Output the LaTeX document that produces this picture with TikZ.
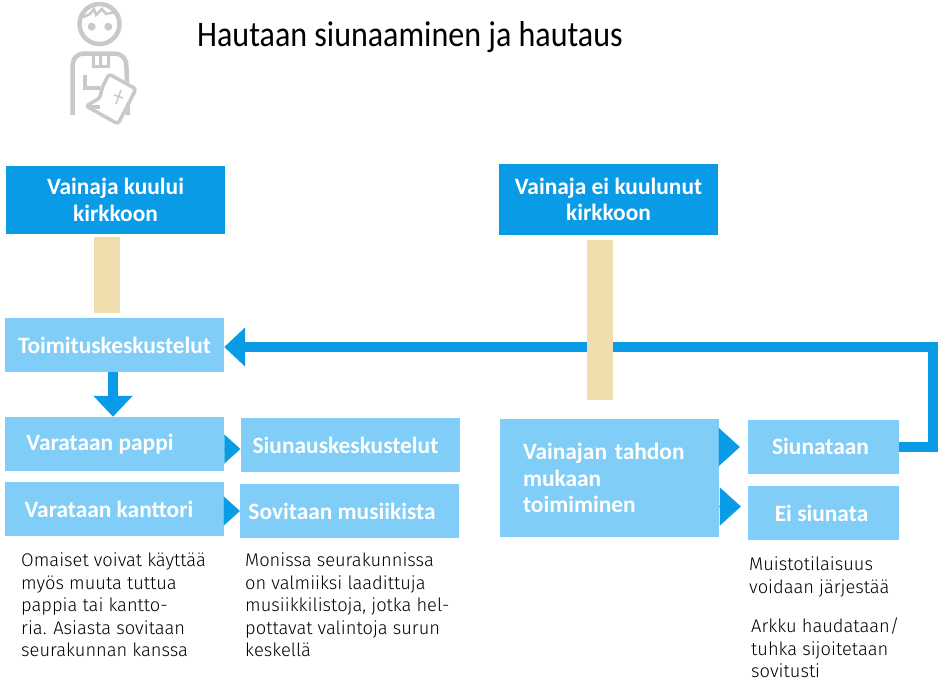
\documentclass[tikz,border=0pt]{standalone}
\usepackage{fontspec}
\setmainfont{Carlito}
\newfontfamily\titlefont[FakeStretch=0.89]{Carlito}
\newfontfamily\bodyfont[UprightFont=* Light]{Fira Sans}
\usetikzlibrary{arrows.meta}
\definecolor{darkblue}{HTML}{0A9BE6}
\definecolor{lightblue}{HTML}{80CDF8}
\definecolor{barcolor}{HTML}{EFDDAE}
\definecolor{icongray}{HTML}{C9C9C9}
\tikzset{
    bluebox/.style={fill=lightblue, text=white, inner sep=0pt, minimum width=219pt, minimum height=54pt, font=\bfseries\fontsize{23.4}{26.5}\selectfont},
    headbox/.style={bluebox, fill=darkblue, align=center},
    smallbox/.style={bluebox, minimum width=151pt},
    bar/.style={barcolor, line width=26pt},
    flow/.style={darkblue, line width=10pt, -{Triangle[length=21pt,width=38pt]}},
    tip/.style={darkblue, line width=0.1pt, -{Triangle[length=16pt,width=29pt]}},
    bigtip/.style={darkblue, line width=0.1pt, -{Triangle[length=21pt,width=38pt]}},
    note/.style={anchor=north west, align=left, inner sep=0pt, font=\bodyfont\fontsize{18.3}{22.5}\selectfont},
    icon/.style={icongray, line width=4.5pt}
}
\begin{document}
\begin{tikzpicture}[x=1pt, y=-1pt]
    \useasboundingbox (0,0) rectangle (947,686);

    \draw[icon] (99.5,24) circle (20);
    \fill[icongray] (91.7,26.7) circle (4) (108.3,26.7) circle (4);
    \draw[icon, line width=2.5pt] (83,17) -- (90,14) -- (94,9) -- (96,15) -- (102,9) -- (106,14) -- (115,12);
    \draw[icon, rounded corners=11pt] (72.7,115) -- (72.7,53.5) -- (126,53.5) -- (128,115);
    \draw[icon, line width=3pt] (93.5,53) -- (93.5,66) -- (108,66) -- (108,53) (100.5,53) -- (100.5,66);
    \fill[white, rounded corners=3pt] (108,72) -- (138,88) -- (119,126) -- (84,108) -- cycle;
    \draw[icon, line width=3.5pt, rounded corners=3pt] (109,74) -- (136,89) -- (118,124) -- (86,106) -- (100,98) -- (102,88) -- cycle;
    \draw[icon, line width=3.5pt] (85,75) -- (85,88) -- (100,88) (87,107) -- (100,107);
    \draw[icon, line width=1.5pt] (121,90) -- (116,104) (114,95) -- (123,98);

    \node[font=\titlefont\fontsize{36}{40}\selectfont] (title) at (410,37) {Hautaan siunaaminen ja hautaus};

    \node[headbox, minimum height=68pt] (kuului) at (115.5,200) {Vainaja kuului\\kirkkoon};
    \node[headbox, minimum height=71pt] (eikuulunut) at (608.5,199.5) {Vainaja ei kuulunut\\kirkkoon};
    \node[bluebox] (toimitus) at (114.5,345) {Toimituskeskustelut};
    \node[bluebox] (pappi) at (114.5,444) {\hspace*{-29pt}Varataan pappi};
    \node[bluebox] (kanttori) at (114.5,509) {\hspace*{-11pt}Varataan kanttori};
    \node[bluebox] (siunaus) at (350,445) {\hspace*{-9pt}Siunauskeskustelut};
    \node[bluebox] (musiikki) at (349.5,511) {\hspace*{-15pt}Sovitaan musiikista};
    \node[bluebox, minimum height=118pt, text width=173pt, align=left] (tahto) at (609.5,478) {Vainajan tahdon\\mukaan\\toimiminen\\[10pt]};
    \node[smallbox] (siunataan) at (823.5,447) {\hspace*{-6pt}\raisebox{2pt}{Siunataan}};
    \node[smallbox] (eisiunata) at (823.5,513) {\hspace*{-4pt}Ei siunata};

    \draw[flow] (siunataan.east) -| (933,347) -- (toimitus.east |- 933,347);
    \draw[bar, shorten <=3pt, shorten >=5pt] ([xshift=-8.5pt]kuului.south) -- ([xshift=-8.5pt]kuului.south |- toimitus.north);
    \draw[bar, shorten <=5pt, shorten >=19pt] ([xshift=-8.5pt]eikuulunut.south) -- ([xshift=-8.5pt]eikuulunut.south |- tahto.north);
    \draw[flow] ([xshift=-1.5pt]toimitus.south) -- ([xshift=-1.5pt]pappi.north);
    \draw[tip] ([yshift=-5pt]pappi.east) -- ([yshift=-5pt]pappi.east -| siunaus.west);
    \draw[tip] ([yshift=-2pt]kanttori.east) -- ([yshift=-2pt]kanttori.east -| musiikki.west);
    \draw[bigtip, shorten >=8pt] (tahto.east |- siunataan.west) -- (siunataan.west);
    \draw[bigtip, shorten >=7pt] ([yshift=6.5pt]tahto.east |- eisiunata.west) -- ([yshift=6.5pt]eisiunata.west);

    \node[note] (pappinote) at (21,553) {Omaiset voivat käyttää\\myös muuta tuttua\\pappia tai kantto-\\ria. Asiasta sovitaan\\seurakunnan kanssa};
    \node[note] (musiikkinote) at (245,553) {Monissa seurakunnissa\\on valmiiksi laadittuja\\musiikkilistoja, jotka hel-\\pottavat valintoja surun\\keskellä};
    \node[note] (muistonote) at (749,557) {Muistotilaisuus\\voidaan järjestää};
    \node[note] (arkkunote) at (751,618) {Arkku haudataan/\\tuhka sijoitetaan\\sovitusti};
\end{tikzpicture}
\end{document}
